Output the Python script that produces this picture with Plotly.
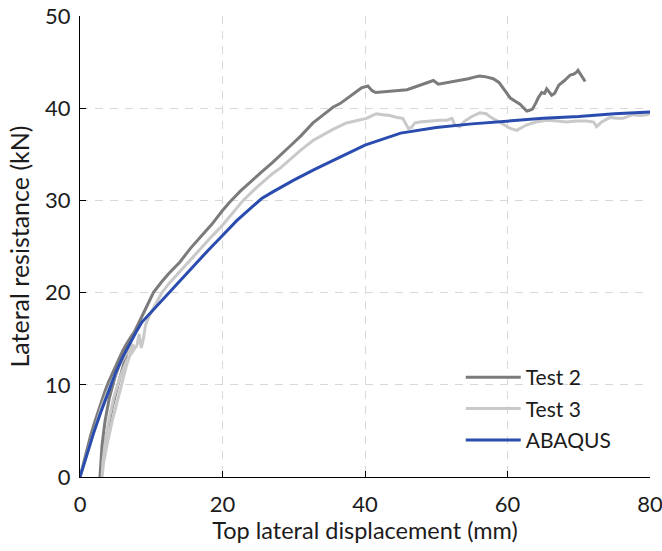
import plotly.graph_objects as go

# ---------------- data ----------------
test2_x = [0, 0.5, 1, 1.5, 2, 2.5, 3, 3.5, 4, 4.5, 5, 5.5, 6, 6.5, 7, 7.4,
           6.5, 5.5, 4.5, 3.7, 3.1, 2.85, 2.8,
           2.9, 3.1, 3.5, 4.1, 4.9, 5.8, 6.8, 7.8, 8.8, 9.6, 10.3, 11.5, 12.5, 14, 15.5, 17, 18.5,
           20, 21, 22.5, 24, 25.5, 27, 28.3, 29.5, 31, 32.7, 34, 35.5, 36.5, 37.5, 38.5, 39.5,
           40.4, 41, 41.5, 43, 44.5, 45.9, 47, 48, 49, 49.6, 50.3, 51, 52, 53.3, 54.5, 55.5,
           56.1, 57, 58, 58.8, 59.4, 60, 60.4, 61.2, 61.8, 62.3, 62.7, 63.2, 63.5, 64, 64.3,
           64.8, 65.2, 65.5, 65.9, 66.2, 66.6, 67.2, 68, 68.8, 69.3, 69.7, 69.9, 70.2, 70.5, 70.9]
test2_y = [0, 1.6, 3.1, 4.5, 5.8, 7.0, 8.2, 9.3, 10.3, 11.2, 12.1, 12.9, 13.7, 14.4, 15.0, 15.5,
           13.2, 10.5, 7.5, 4.5, 2.0, 0.5, 0,
           1.5, 3.5, 6.0, 8.5, 10.8, 12.8, 14.6, 16.0, 17.6, 18.8, 20.0, 21.2, 22.1, 23.3, 24.8, 26.1, 27.4,
           28.9, 29.8, 31.0, 32.1, 33.1, 34.1, 35.0, 35.9, 37.0, 38.4, 39.2, 40.1, 40.5, 41.1, 41.7, 42.2,
           42.4, 41.9, 41.7, 41.8, 41.9, 42.0, 42.3, 42.6, 42.9, 43.0, 42.6, 42.7, 42.8, 43.0, 43.2, 43.4,
           43.5, 43.4, 43.2, 42.8, 42.2, 41.6, 41.1, 40.7, 40.4, 40.0, 39.7, 39.8, 39.9, 40.6, 41.1,
           41.7, 41.6, 42.1, 41.7, 41.4, 41.6, 42.5, 43.0, 43.6, 43.7, 43.9, 44.1, 43.7, 43.3, 42.9]

test3_x = [0, 0.4, 0.8, 1.5, 2.2, 3, 3.8, 4.6, 5.4, 6.2, 7, 7.5,
           6.5, 5.5, 4.5, 3.8, 3.3, 3.1,
           3.2, 3.5, 4, 4.7, 5.6, 6.6, 7.5, 8, 8.3, 8.6, 8.9, 9.2, 9.8, 10.6, 11.5, 12.5, 14, 15.5,
           17, 18.5, 20, 21.5, 22.9, 24.5, 26, 27, 28.1, 29.5, 30.9, 32.7, 34, 35.5, 37.4, 38.5,
           40.2, 41, 41.6, 42.5, 43.5, 44.5, 45.3, 45.8, 46.1, 46.5, 47, 47.7, 49, 50.5, 51.5,
           52.2, 52.6, 53.3, 54, 55, 56.1, 57, 57.5, 58.2, 58.9, 59.7, 60.4, 61.3, 62, 62.7, 64,
           65.5, 67, 68.3, 69.7, 71.1, 72.1, 72.5, 73.2, 74.4, 75.3, 76.2, 77.6, 78.5, 79.5, 80]
test3_y = [0, 1.0, 2.1, 3.9, 5.6, 7.5, 9.1, 10.6, 11.9, 13.0, 13.9, 14.4,
           12.0, 9.0, 6.0, 3.5, 1.5, 0,
           1.5, 3.5, 6.0, 8.5, 10.8, 12.7, 13.8, 14.3, 15.5, 14.0, 15.0, 16.5, 17.6, 18.8, 20.0, 21.0, 22.3, 23.6,
           24.9, 26.1, 27.3, 28.7, 30.0, 31.2, 32.2, 32.9, 33.5, 34.5, 35.4, 36.5, 37.1, 37.7, 38.4, 38.6,
           38.9, 39.2, 39.4, 39.3, 39.2, 39.0, 38.9, 38.2, 37.8, 37.9, 38.4, 38.5, 38.6, 38.7, 38.7,
           38.9, 38.2, 38.0, 38.6, 39.1, 39.5, 39.4, 39.1, 38.8, 38.5, 38.1, 37.8, 37.6, 37.9, 38.2, 38.5,
           38.7, 38.6, 38.5, 38.6, 38.6, 38.5, 38.0, 38.5, 39.0, 38.9, 38.9, 39.3, 39.2, 39.3, 39.4]

abaqus_x = [0, 1, 2, 3, 4, 5, 6, 7, 8, 8.7, 10, 12, 14, 16, 18, 20, 22, 24, 25.5, 27, 30, 33,
            36.5, 40, 45, 50, 55, 60, 65, 70, 75, 80]
abaqus_y = [0, 2.6, 5.0, 7.2, 9.3, 11.3, 13.0, 14.5, 15.9, 16.8, 17.9, 19.5, 21.2, 22.9, 24.6,
            26.2, 27.8, 29.2, 30.2, 30.9, 32.2, 33.4, 34.7, 36.0, 37.3, 37.9, 38.3, 38.6, 38.9,
            39.1, 39.4, 39.6]

x_ticks = [0, 20, 40, 60, 80]
y_ticks = [0, 10, 20, 30, 40, 50]

FONT = "Lato"
TXT = "#1c1c1c"

fig = go.Figure()
fig.add_trace(go.Scatter(x=test2_x, y=test2_y, mode="lines", name="Test 2",
                         line=dict(color="#7b7b7b", width=3), legendgroup="a"))
fig.add_trace(go.Scatter(x=test3_x, y=test3_y, mode="lines", name="Test 3",
                         line=dict(color="#c9c9c9", width=3), legendgroup="b"))
fig.add_trace(go.Scatter(x=abaqus_x, y=abaqus_y, mode="lines", name="ABAQUS",
                         line=dict(color="#2a4cae", width=3), legendgroup="c"))

fig.update_layout(
    width=662, height=551,
    margin=dict(l=80, r=12, t=16, b=74),
    paper_bgcolor="white", plot_bgcolor="white",
    font=dict(family=FONT, size=21, color=TXT),
    showlegend=True,
    legend=dict(x=0.668, y=0.26, xanchor="left", yanchor="top",
                bgcolor="rgba(0,0,0,0)", font=dict(size=21, family=FONT, color=TXT),
                tracegroupgap=1, traceorder="grouped", itemwidth=55),
    xaxis=dict(range=[0, 80], tickvals=x_ticks, ticks="inside", ticklen=6,
               showline=True, linecolor="black", linewidth=1.2, tickcolor="black",
               showgrid=True, gridcolor="#d8d8d8", griddash="8px,7px", gridwidth=1.2,
               zeroline=False, automargin=False, ticklabeloverflow="allow",
               ticklabelstandoff=7,
               title=dict(text="Top lateral displacement (mm)", font=dict(size=23.5), standoff=0),
               tickfont=dict(size=22)),
    yaxis=dict(range=[0, 50], tickvals=y_ticks, ticks="inside", ticklen=6,
               showline=True, linecolor="black", linewidth=1.2, tickcolor="black",
               showgrid=True, gridcolor="#d8d8d8", griddash="8px,7px", gridwidth=1.2,
               zeroline=False, automargin=False, ticklabeloverflow="allow",
               ticklabelstandoff=4,
               title=dict(text="Lateral resistance (kN)", font=dict(size=25), standoff=8),
               tickfont=dict(size=22)),
)

fig.write_html("out.html")
